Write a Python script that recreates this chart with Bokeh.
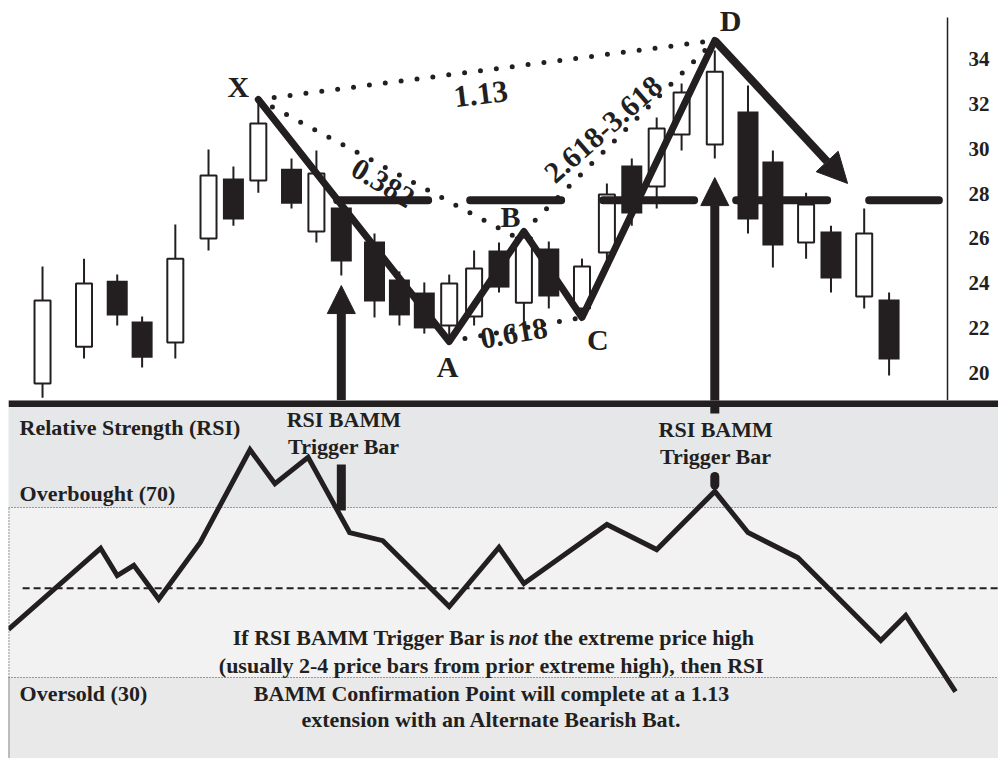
from bokeh.plotting import figure
from bokeh.models import (ColumnDataSource, Range1d, FixedTicker, Span, BoxAnnotation,
                          Arrow, NormalHead)
from bokeh.embed import file_html
from bokeh.resources import INLINE
from bokeh.core.properties import value

INK = "#231f20"
FONT = "Liberation Serif"

# ---------------- price bars (time index, OHLC) ----------------
bar_t = [0, 5, 9, 12, 16, 20, 23, 26, 30, 33, 36, 40, 43, 46, 49, 52, 55, 58, 61, 65,
         68, 71, 74, 77, 81, 85, 88, 92, 95, 99, 102]
bar_open = [19.54, 21.18, 24.12, 22.30, 21.36, 26.00, 28.67, 28.58, 29.11, 26.31, 27.38,
            25.86, 24.17, 23.59, 22.12, 22.52, 25.46, 23.14, 25.55, 22.88, 25.37, 29.25,
            28.31, 30.63, 30.18, 31.65, 29.43, 25.82, 26.31, 23.41, 23.28]
bar_high = [24.75, 25.10, 24.39, 22.52, 26.62, 29.96, 29.20, 32.00, 29.56, 29.92, 27.69,
            26.22, 24.53, 24.04, 24.39, 25.46, 25.82, 26.35, 25.86, 25.10, 28.45, 29.56,
            31.39, 32.90, 34.37, 32.81, 29.92, 28.04, 26.57, 27.33, 23.59]
bar_low = [18.90, 20.65, 22.12, 20.25, 20.65, 25.46, 26.57, 28.04, 27.33, 25.82, 24.35,
           22.48, 22.12, 21.76, 21.41, 22.12, 23.59, 22.21, 22.88, 22.48, 24.88, 26.57,
           27.33, 29.92, 29.56, 26.22, 24.70, 25.10, 23.59, 22.88, 19.89]
bar_close = [23.23, 23.99, 22.57, 20.69, 25.10, 28.80, 26.84, 31.12, 27.55, 28.89, 24.97,
             23.19, 22.57, 21.99, 23.99, 24.66, 23.81, 26.04, 23.41, 24.75, 27.96, 27.11,
             30.90, 32.50, 33.43, 26.84, 25.68, 27.51, 24.21, 26.22, 20.61]
price_ticks = [20, 22, 24, 26, 28, 30, 32, 34]

# ---------------- harmonic pattern ----------------
pattern_names = ["X", "A", "B", "C", "D"]
pattern_t = [26, 49, 58, 65, 81]
pattern_p = [32.19, 21.41, 26.31, 22.48, 34.82]
target_t, target_p = 97, 28.45          # projected move after D
trigger_level = 27.7                    # horizontal level line
level_t0, level_t1 = 35.5, 108.0
ratio_text = ["1.13", "0.382", "0.618", "2.618-3.618"]
ratio_leg_t0 = [26, 26, 49, 58]
ratio_leg_p0 = [32.19, 32.19, 21.41, 26.31]
ratio_leg_t1 = [81, 58, 65, 81]
ratio_leg_p1 = [34.82, 25.86, 22.48, 34.82]
trigger_bars_t = [36, 81]
trigger_tip_p = [23.90, 28.71]

# ---------------- RSI ----------------
rsi_t = [-4.1, 7, 9, 11, 14, 19, 25, 28, 32, 37, 41, 49, 55, 58, 68, 74, 81, 85, 91,
         101, 104, 110]
rsi_v = [41.3, 60.4, 54.0, 56.4, 48.4, 61.8, 83.6, 75.6, 81.8, 64.1, 62.2, 46.7, 60.6,
         52.1, 66.0, 60.1, 73.8, 64.1, 58.2, 38.7, 44.6, 26.7]
overbought, oversold, midline = 70, 30, 51

T0, T1_TOP, T1_BOT = -4.10, 109.40, 115.18
T_AXIS = 109.04

# ======================= price panel =======================
p = figure(width=998, height=400, title=None,
           x_range=Range1d(T0, T1_TOP), y_range=Range1d(18.78, 36.60),
           output_backend="svg", toolbar_location=None,
           x_axis_location=None, y_axis_location="right",
           min_border_left=8, min_border_top=0, min_border_bottom=0, min_border_right=48)
p.grid.visible = False
p.outline_line_color = None
p.background_fill_color = "white"
p.border_fill_color = "white"
ya = p.yaxis[0]
ya.ticker = FixedTicker(ticks=price_ticks)
ya.major_label_text_font = FONT
ya.major_label_text_font_style = "bold"
ya.major_label_text_font_size = "21px"
ya.major_label_text_color = INK
ya.major_tick_in = 0
ya.major_tick_out = 0
ya.minor_tick_in = 0
ya.minor_tick_out = 0
ya.axis_line_color = None
ya.major_label_standoff = 18
# price scale rule
p.segment(x0=[T_AXIS], y0=[35.84], x1=[T_AXIS], y1=[18.6], line_color=INK, line_width=1.5)

up = [i for i in range(len(bar_t)) if bar_close[i] >= bar_open[i]]
dn = [i for i in range(len(bar_t)) if bar_close[i] < bar_open[i]]
p.segment(x0=bar_t, y0=bar_low, x1=bar_t, y1=bar_high, line_color=INK, line_width=2)
src_up = ColumnDataSource(dict(t=[bar_t[i] for i in up], top=[bar_close[i] for i in up],
                               bottom=[bar_open[i] for i in up]))
src_dn = ColumnDataSource(dict(t=[bar_t[i] for i in dn], top=[bar_open[i] for i in dn],
                               bottom=[bar_close[i] for i in dn]))
p.vbar(x="t", top="top", bottom="bottom", width=1.93, fill_color="white",
       line_color=INK, line_width=2, source=src_up)
p.vbar(x="t", top="top", bottom="bottom", width=2.53, fill_color=INK,
       line_color=None, source=src_dn)

# ratio labels (under the lines)
lab_t = [52.8, 41.0, 56.8, 67.6]
lab_p = [32.45, 28.45, 21.76, 30.85]
lab_a = [0.12, -0.54, 0.17, 0.72]
lab_s = ["31px", "30px", "30px", "30px"]
p.text(x=lab_t, y=lab_p, text=ratio_text, angle=lab_a, text_font=value(FONT),
       text_font_style="bold", text_font_size=lab_s, text_color=INK,
       text_align="center", text_baseline="middle")

# dotted ratio legs
for i in range(len(ratio_text)):
    p.line([ratio_leg_t0[i], ratio_leg_t1[i]], [ratio_leg_p0[i], ratio_leg_p1[i]],
           line_color=INK, line_width=5, line_dash="0 16", line_cap="round")

# thick dashed level
p.line([level_t0, level_t1], [trigger_level, trigger_level], line_color=INK,
       line_width=8, line_dash="91 42", line_cap="round")

# pattern
p.line(pattern_t, pattern_p, line_color=INK, line_width=7, line_join="round",
       line_cap="round")
p.add_layout(Arrow(end=NormalHead(size=30, fill_color=INK, line_color=INK),
                   x_start=pattern_t[-1], y_start=pattern_p[-1],
                   x_end=target_t, y_end=target_p, line_color=INK, line_width=8))
for tt, tp in zip(trigger_bars_t, trigger_tip_p):
    p.add_layout(Arrow(end=NormalHead(size=28, fill_color=INK, line_color=INK),
                       x_start=tt, y_start=18.6, x_end=tt, y_end=tp,
                       line_color=INK, line_width=9))

let_t = [23.6, 48.8, 56.4, 66.9, 82.9]
let_p = [32.77, 20.29, 26.98, 21.5, 35.7]
p.text(x=let_t, y=let_p, text=pattern_names, text_font=value(FONT),
       text_font_style="bold", text_font_size="30px", text_color=INK,
       text_align="center", text_baseline="middle")

# ======================= RSI panel =======================
q = figure(width=998, height=358, title=None,
           x_range=Range1d(T0, T1_BOT), y_range=Range1d(10.94, 95.18),
           output_backend="svg", toolbar_location=None,
           x_axis_location=None, y_axis_location=None,
           min_border_left=8, min_border_right=0, min_border_top=0, min_border_bottom=0)
q.grid.visible = False
q.outline_line_color = None
q.background_fill_color = "#e6e7e8"
q.border_fill_color = "white"
q.add_layout(BoxAnnotation(bottom=oversold, top=overbought, fill_color="#f2f2f2",
                           fill_alpha=1, line_color=None, level="underlay"))
q.add_layout(BoxAnnotation(top=oversold, fill_color="#e9e9ea", fill_alpha=1,
                           line_color=None, level="underlay"))
for lv in (overbought, oversold):
    q.add_layout(Span(location=lv, dimension="width", line_color="#444444",
                      line_width=1, line_dash="1 2", level="underlay"))
q.segment(x0=[T0], y0=[oversold], x1=[T0], y1=[overbought], line_color="#444444",
          line_width=2, line_dash="1 2")
q.segment(x0=[T0], y0=[10.94], x1=[T0], y1=[oversold], line_color="#8a8a8a",
          line_width=2)
q.segment(x0=[-2.4], y0=[midline], x1=[T1_BOT], y1=[midline], line_color=INK,
          line_width=2, line_dash="7 4")
q.add_layout(Span(location=94.47, dimension="width", line_color=INK, line_width=7))

q.line(rsi_t, rsi_v, line_color=INK, line_width=5, line_join="miter")

# trigger bar markers continuing into RSI panel
q.segment(x0=[36], y0=[80.1], x1=[36], y1=[69.3], line_color=INK, line_width=9)
q.segment(x0=[81], y0=[95.3], x1=[81], y1=[92.1], line_color=INK, line_width=9)
q.segment(x0=[81], y0=[77.3], x1=[81], y1=[75.3], line_color=INK, line_width=9,
          line_cap="round")

txt_kw = dict(text_font=value(FONT), text_font_style="bold", text_font_size="22px",
              text_color=INK, text_baseline="middle")
q.text(x=[-2.77, -2.77, -2.77], y=[88.8, 73.3, 26.2],
       text=["Relative Strength (RSI)", "Overbought (70)", "Oversold (30)"],
       text_align="left", **txt_kw)
q.text(x=[36.3, 36.3, 81.1, 81.1], y=[90.7, 84.4, 88.35, 82.0],
       text=["RSI BAMM", "Trigger Bar", "RSI BAMM", "Trigger Bar"],
       text_align="center", **txt_kw)
q.text(x=[55.78], y=[39.3], text=["If RSI BAMM Trigger Bar is"], text_align="right",
       **txt_kw)
q.text(x=[56.14], y=[39.3], text=["not"], text_align="left",
       text_font=value(FONT), text_font_style="bold italic", text_font_size="22px",
       text_color=INK, text_baseline="middle")
q.text(x=[60.36], y=[39.3], text=["the extreme price high"], text_align="left", **txt_kw)
q.text(x=[54.1, 54.1, 54.1], y=[32.9, 26.35, 20.0],
       text=["(usually 2-4 price bars from prior extreme high), then RSI",
             "BAMM Confirmation Point will complete at a 1.13",
             "extension with an Alternate Bearish Bat."],
       text_align="center", **txt_kw)

open("out.html", "w").write(file_html([p, q], INLINE))
